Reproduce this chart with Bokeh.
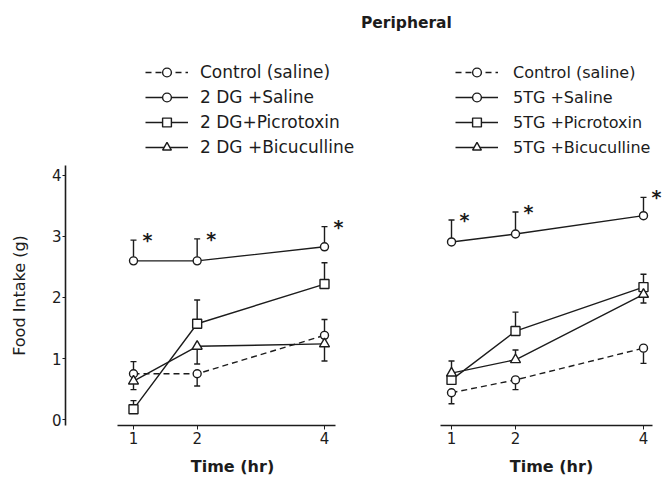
from bokeh.plotting import figure
from bokeh.models import (ColumnDataSource, Whisker, TeeHead, Legend, LegendItem,
                          FixedTicker, Range1d, Div)
from bokeh.layouts import row, column
from bokeh.embed import file_html
from bokeh.resources import INLINE
from bokeh.core.properties import value

# ---------------- data ----------------
times = [1, 2, 4]
y_ticks = [0, 1, 2, 3, 4]
title_text = "Peripheral"
x_label = "Time (hr)"
y_label = "Food Intake (g)"

dg_labels = ["Control (saline)", "2 DG +Saline", "2 DG+Picrotoxin", "2 DG +Bicuculline"]
dg_control = [0.75, 0.75, 1.38]
dg_control_err = [0.20, -0.20, 0.26]      # + : bar drawn up, - : bar drawn down
dg_saline = [2.60, 2.60, 2.83]
dg_saline_err = [0.34, 0.36, 0.33]
dg_picro = [0.17, 1.57, 2.22]
dg_picro_err = [0.14, 0.39, 0.35]
dg_bicu = [0.63, 1.20, 1.24]
dg_bicu_err = [-0.14, -0.29, -0.28]

tg_labels = ["Control (saline)", "5TG +Saline", "5TG +Picrotoxin", "5TG +Bicuculline"]
tg_control = [0.44, 0.65, 1.17]
tg_control_err = [-0.18, -0.16, -0.25]
tg_saline = [2.91, 3.04, 3.34]
tg_saline_err = [0.36, 0.36, 0.30]
tg_picro = [0.65, 1.45, 2.17]
tg_picro_err = [0.31, 0.31, 0.21]
tg_bicu = [0.76, 0.98, 2.05]
tg_bicu_err = [0.0, 0.16, -0.14]

# ---------------- style ----------------
INK = "#1c1c1c"
FONT = "DejaVu Sans"
LW = 1.4


def draw_series(p, src, marker, size, dash):
    lr = p.line("x", "y", source=src, line_color=INK, line_width=LW, line_dash=dash)
    sr = p.scatter("x", "y", source=src, marker=marker, size=size,
                   fill_color="white", line_color=INK, line_width=LW)
    return lr, sr


def make_legend_fig(width, series, labels, legend_x, label_standoff, legend_font):
    # a strip above each panel that holds only the key
    lf = figure(width=width, height=117, x_range=Range1d(0, 1), y_range=Range1d(0, 1),
                output_backend="svg", toolbar_location=None,
                x_axis_location=None, y_axis_location=None, min_border=0)
    lf.outline_line_color = None
    lf.grid.visible = False
    items = []
    for (means, errs, marker, size, dash), lab in zip(series, labels):
        lr, sr = draw_series(lf, ColumnDataSource(dict(x=times, y=means)), marker, size, dash)
        lr.visible = False     # only their legend swatches are shown
        sr.visible = False
        items.append(LegendItem(label=lab, renderers=[lr, sr]))
    legend = Legend(items=items, location=(legend_x, 7),
                    border_line_color=None, background_fill_alpha=0,
                    inactive_fill_alpha=0,
                    padding=0, margin=0, spacing=3,
                    glyph_width=43, glyph_height=22, label_height=22,
                    label_standoff=label_standoff,
                    label_text_font=FONT, label_text_font_size=legend_font,
                    label_text_color=INK)
    lf.add_layout(legend)
    return lf


def make_panel(width, border_left, border_right, x_start, x_end, x_bounds, with_y_axis,
               series, star_offset):
    kw = dict(y_axis_label=y_label) if with_y_axis else {}
    p = figure(width=width, height=313,
               x_range=Range1d(x_start, x_end), y_range=Range1d(-0.097, 4.162),
               output_backend="svg", toolbar_location=None,
               min_border_left=border_left, min_border_right=border_right,
               min_border_top=0, min_border_bottom=50,
               y_axis_location="left" if with_y_axis else None,
               x_axis_label=x_label, **kw)
    p.outline_line_color = None
    p.grid.visible = False
    p.background_fill_color = "white"
    p.border_fill_color = "white"

    up = dict(base=[], lower=[], upper=[])
    down = dict(base=[], lower=[], upper=[])
    for (means, errs, marker, size, dash) in series:
        for t, m, e in zip(times, means, errs):
            if e > 0:
                up["base"].append(t); up["lower"].append(m); up["upper"].append(m + e)
            elif e < 0:
                down["base"].append(t); down["lower"].append(m + e); down["upper"].append(m)
        draw_series(p, ColumnDataSource(dict(x=times, y=means)), marker, size, dash)

    p.add_layout(Whisker(source=ColumnDataSource(up), base="base", lower="lower", upper="upper",
                         dimension="height", line_color=INK, line_width=LW,
                         lower_head=None,
                         upper_head=TeeHead(size=6, line_color=INK, line_width=LW)))
    p.add_layout(Whisker(source=ColumnDataSource(down), base="base", lower="lower", upper="upper",
                         dimension="height", line_color=INK, line_width=LW,
                         upper_head=None,
                         lower_head=TeeHead(size=6, line_color=INK, line_width=LW)))

    # significance asterisks next to the saline error bars
    sal_means, sal_errs = series[1][0], series[1][1]
    p.text(x=times, y=[m + e for m, e in zip(sal_means, sal_errs)], text=["*"] * len(times),
           x_offset=star_offset, y_offset=0,
           text_font=value(FONT), text_font_size="19px", text_font_style="bold",
           text_align="center", text_baseline="middle", text_color=INK)

    xa = p.xaxis[0]
    xa.ticker = FixedTicker(ticks=times)
    xa.bounds = x_bounds
    xa.minor_tick_line_color = None
    xa.major_tick_in = 0
    xa.major_tick_out = 4
    xa.major_tick_line_color = INK
    xa.major_label_standoff = 2
    xa.axis_line_width = 1.6
    xa.axis_line_color = INK
    xa.major_label_text_font = FONT
    xa.major_label_text_font_size = "15px"
    xa.major_label_text_color = INK
    xa.axis_label_text_font = FONT
    xa.axis_label_text_font_size = "16px"
    xa.axis_label_text_font_style = "bold"
    xa.axis_label_text_color = INK
    xa.axis_label_standoff = 10

    if with_y_axis:
        ya = p.yaxis[0]
        ya.ticker = FixedTicker(ticks=y_ticks)
        ya.minor_tick_line_color = None
        ya.major_tick_in = 0
        ya.major_tick_out = 3
        ya.major_tick_line_color = INK
        ya.major_label_standoff = 1
        ya.axis_line_width = 1.6
        ya.axis_line_color = INK
        ya.major_label_text_font = FONT
        ya.major_label_text_font_size = "15px"
        ya.major_label_text_color = INK
        ya.axis_label_text_font = FONT
        ya.axis_label_text_font_size = "16px"
        ya.axis_label_text_font_style = "normal"
        ya.axis_label_text_color = INK
        ya.axis_label_standoff = 20
    return p


dg_series = [
    (dg_control, dg_control_err, "circle", 8, "6 4"),
    (dg_saline, dg_saline_err, "circle", 8, "solid"),
    (dg_picro, dg_picro_err, "square", 9, "solid"),
    (dg_bicu, dg_bicu_err, "triangle", 10, "solid"),
]
tg_series = [
    (tg_control, tg_control_err, "circle", 8, "6 4"),
    (tg_saline, tg_saline_err, "circle", 8, "solid"),
    (tg_picro, tg_picro_err, "square", 9, "solid"),
    (tg_bicu, tg_bicu_err, "triangle", 10, "solid"),
]

l1 = make_legend_fig(440, dg_series, dg_labels, 145, 12, "17px")
l2 = make_legend_fig(222, tg_series, tg_labels, 15, 15, "16px")
p1 = make_panel(440, 65, 41, -0.068, 5.178, (0.75, 4.17), True, dg_series, 14)
p2 = make_panel(222, 0, 0, 0.828, 4.297, (0.83, 4.14), False, tg_series, 13)

title = Div(text=title_text, width=662, height=48, margin=0,
            styles={"font-family": FONT, "font-weight": "bold", "font-size": "15.5px",
                    "line-height": "46px", "padding-left": "361px", "color": INK})

layout = column(title, row(l1, l2, spacing=0), row(p1, p2, spacing=0), spacing=0)

open("out.html", "w").write(file_html(layout, INLINE))
